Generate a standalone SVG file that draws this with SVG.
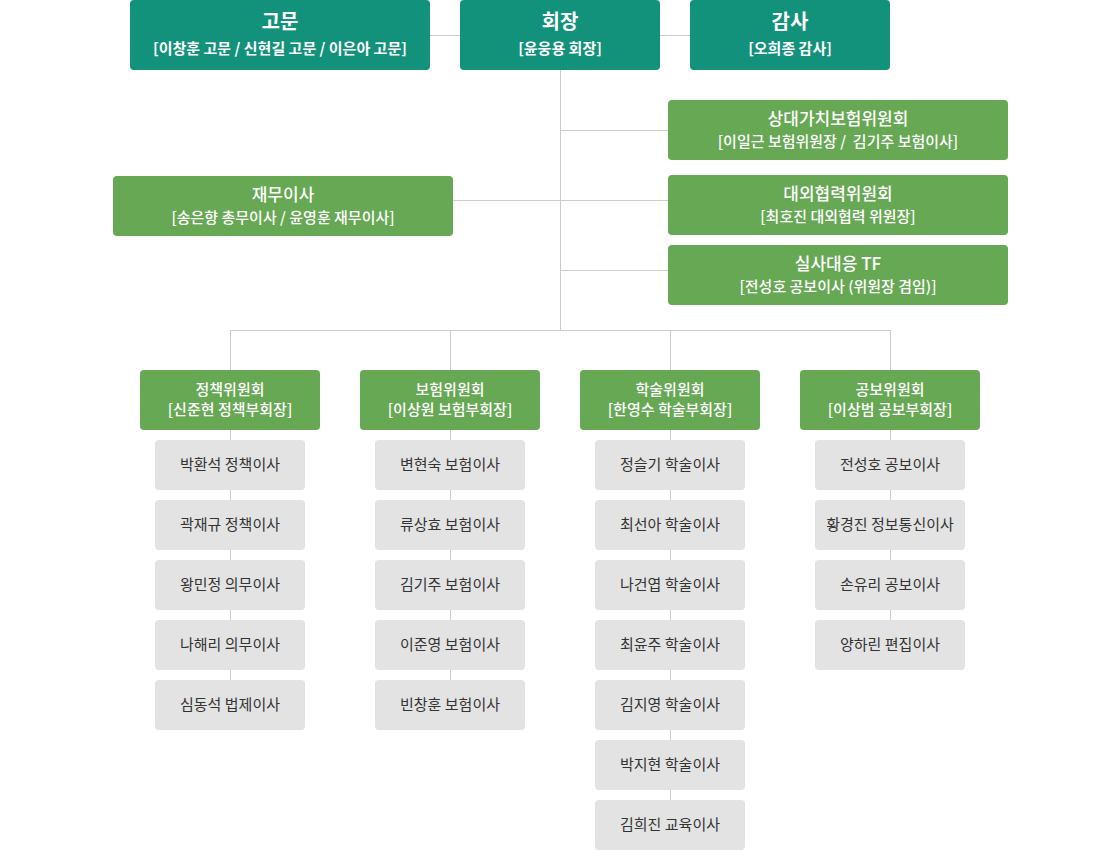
<svg xmlns="http://www.w3.org/2000/svg" width="1120" height="850" viewBox="0 0 1120 850">
<style>
.teal{fill:#12917b}
.green{fill:#67a854}
.gray{fill:#e3e3e3}
text{font-family:"Noto Sans CJK KR","Noto Sans",sans-serif;text-anchor:middle}
.t1{font-size:20px;font-weight:700;fill:#fff}
.s1{font-size:15px;font-weight:700;fill:#fff}
.t2{font-size:17px;font-weight:500;fill:#fff}
.s2{font-size:15px;font-weight:500;fill:#fff}
.t3{font-size:15px;font-weight:500;fill:#fff}
.g{font-size:15px;font-weight:400;fill:#333}
.ln{stroke:#cccccc;stroke-width:1;fill:none}
</style>
<rect width="1120" height="850" fill="#fff"/>
<g id="connectors" class="ln">
<path d="M430 35.5H460M660 35.5H690"/>
<path d="M560.5 70V330"/>
<path d="M560 130.5H668M560 200.5H668M560 270.5H668M453 200.5H560"/>
<path d="M230.5 330.5H890.5"/>
<path d="M230.5 330V720M450.5 330V700M670.5 330V830M890.5 330V650"/>
</g>
<g id="n-gomun"><rect class="teal" x="130" y="0" width="300" height="70" rx="4"/><text class="t1" x="280" y="29">고문</text><text class="s1" x="280" y="54">[이창훈 고문 / 신현길 고문 / 이은아 고문]</text></g>
<g id="n-hoejang"><rect class="teal" x="460" y="0" width="200" height="70" rx="4"/><text class="t1" x="560" y="29">회장</text><text class="s1" x="560" y="54">[윤웅용 회장]</text></g>
<g id="n-gamsa"><rect class="teal" x="690" y="0" width="200" height="70" rx="4"/><text class="t1" x="790" y="29">감사</text><text class="s1" x="790" y="54">[오희종 감사]</text></g>
<g id="n-sangdae"><rect class="green" x="668" y="100" width="340" height="60" rx="4"/><text class="t2" x="838" y="125">상대가치보험위원회</text><text class="s2" x="838" y="147">[이일근 보험위원장 /&#160; 김기주 보험이사]</text></g>
<g id="n-daeoe"><rect class="green" x="668" y="175" width="340" height="60" rx="4"/><text class="t2" x="838" y="200">대외협력위원회</text><text class="s2" x="838" y="222">[최호진 대외협력 위원장]</text></g>
<g id="n-silsa"><rect class="green" x="668" y="245" width="340" height="60" rx="4"/><text class="t2" x="838" y="270">실사대응 TF</text><text class="s2" x="838" y="292">[전성호 공보이사 (위원장 겸임)]</text></g>
<g id="n-jaemu"><rect class="green" x="113" y="176" width="340" height="60" rx="4"/><text class="t2" x="283" y="201">재무이사</text><text class="s2" x="283" y="223">[송은향 총무이사 / 윤영훈 재무이사]</text></g>
<g id="n-policy"><rect class="green" x="140" y="370" width="180" height="60" rx="4"/><text class="t3" x="230" y="395">정책위원회</text><text class="t3" x="230" y="415">[신준현 정책부회장]</text></g>
<g id="n-insur"><rect class="green" x="360" y="370" width="180" height="60" rx="4"/><text class="t3" x="450" y="395">보험위원회</text><text class="t3" x="450" y="415">[이상원 보험부회장]</text></g>
<g id="n-acad"><rect class="green" x="580" y="370" width="180" height="60" rx="4"/><text class="t3" x="670" y="395">학술위원회</text><text class="t3" x="670" y="415">[한영수 학술부회장]</text></g>
<g id="n-pr"><rect class="green" x="800" y="370" width="180" height="60" rx="4"/><text class="t3" x="890" y="395">공보위원회</text><text class="t3" x="890" y="415">[이상범 공보부회장]</text></g>
<g id="n-p1"><rect class="gray" x="155" y="440" width="150" height="50" rx="4"/><text class="g" x="230" y="470">박환석 정책이사</text></g>
<g id="n-p2"><rect class="gray" x="155" y="500" width="150" height="50" rx="4"/><text class="g" x="230" y="530">곽재규 정책이사</text></g>
<g id="n-p3"><rect class="gray" x="155" y="560" width="150" height="50" rx="4"/><text class="g" x="230" y="590">왕민정 의무이사</text></g>
<g id="n-p4"><rect class="gray" x="155" y="620" width="150" height="50" rx="4"/><text class="g" x="230" y="650">나해리 의무이사</text></g>
<g id="n-p5"><rect class="gray" x="155" y="680" width="150" height="50" rx="4"/><text class="g" x="230" y="710">심동석 법제이사</text></g>
<g id="n-i1"><rect class="gray" x="375" y="440" width="150" height="50" rx="4"/><text class="g" x="450" y="470">변현숙 보험이사</text></g>
<g id="n-i2"><rect class="gray" x="375" y="500" width="150" height="50" rx="4"/><text class="g" x="450" y="530">류상효 보험이사</text></g>
<g id="n-i3"><rect class="gray" x="375" y="560" width="150" height="50" rx="4"/><text class="g" x="450" y="590">김기주 보험이사</text></g>
<g id="n-i4"><rect class="gray" x="375" y="620" width="150" height="50" rx="4"/><text class="g" x="450" y="650">이준영 보험이사</text></g>
<g id="n-i5"><rect class="gray" x="375" y="680" width="150" height="50" rx="4"/><text class="g" x="450" y="710">빈창훈 보험이사</text></g>
<g id="n-a1"><rect class="gray" x="595" y="440" width="150" height="50" rx="4"/><text class="g" x="670" y="470">정슬기 학술이사</text></g>
<g id="n-a2"><rect class="gray" x="595" y="500" width="150" height="50" rx="4"/><text class="g" x="670" y="530">최선아 학술이사</text></g>
<g id="n-a3"><rect class="gray" x="595" y="560" width="150" height="50" rx="4"/><text class="g" x="670" y="590">나건엽 학술이사</text></g>
<g id="n-a4"><rect class="gray" x="595" y="620" width="150" height="50" rx="4"/><text class="g" x="670" y="650">최윤주 학술이사</text></g>
<g id="n-a5"><rect class="gray" x="595" y="680" width="150" height="50" rx="4"/><text class="g" x="670" y="710">김지영 학술이사</text></g>
<g id="n-a6"><rect class="gray" x="595" y="740" width="150" height="50" rx="4"/><text class="g" x="670" y="770">박지현 학술이사</text></g>
<g id="n-a7"><rect class="gray" x="595" y="800" width="150" height="50" rx="4"/><text class="g" x="670" y="830">김희진 교육이사</text></g>
<g id="n-r1"><rect class="gray" x="815" y="440" width="150" height="50" rx="4"/><text class="g" x="890" y="470">전성호 공보이사</text></g>
<g id="n-r2"><rect class="gray" x="815" y="500" width="150" height="50" rx="4"/><text class="g" x="890" y="530">황경진 정보통신이사</text></g>
<g id="n-r3"><rect class="gray" x="815" y="560" width="150" height="50" rx="4"/><text class="g" x="890" y="590">손유리 공보이사</text></g>
<g id="n-r4"><rect class="gray" x="815" y="620" width="150" height="50" rx="4"/><text class="g" x="890" y="650">양하린 편집이사</text></g>
</svg>
